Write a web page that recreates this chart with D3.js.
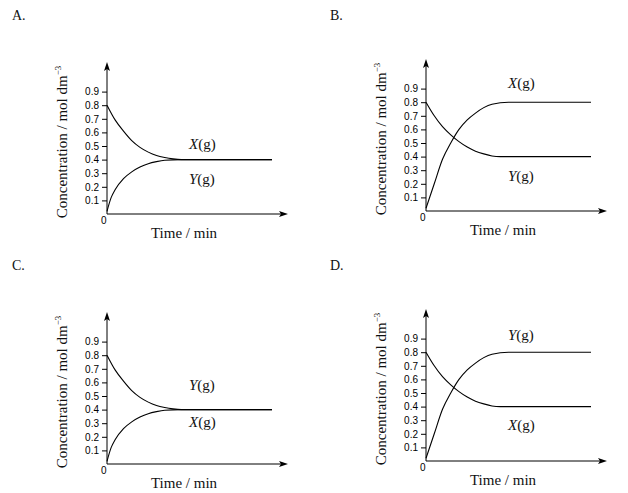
<!DOCTYPE html>
<html><head><meta charset="utf-8">
<script src="https://cdn.jsdelivr.net/npm/d3@7"></script>
<style>
body{margin:0;background:#fff}
.tick text{font-family:"Liberation Sans",Arial,sans-serif;font-size:10px}
.lab{font-family:"Liberation Serif","Times New Roman",serif;fill:#111}
</style></head><body>
<svg width="628" height="493"></svg>
<script>
'use strict';
// Readings (time in arbitrary units 0..10, concentration in mol dm^-3)
const yTicks = [0.1, 0.2, 0.3, 0.4, 0.5, 0.6, 0.7, 0.8, 0.9];
const slowT = [0, 0.5, 1, 1.5, 2, 2.5, 3, 3.5, 4, 4.5, 10];
const slowFall = [0.8, 0.69, 0.61, 0.54, 0.49, 0.455, 0.43, 0.415, 0.405, 0.4, 0.4];
const slowRiseT = [0, 0.25, 0.5, 1, 1.5, 2, 2.5, 3, 3.5, 4.5, 10];
const slowRise = [0.02, 0.12, 0.18, 0.26, 0.31, 0.345, 0.37, 0.385, 0.395, 0.4, 0.4];
const fastRiseT = [0, 0.5, 1, 1.5, 2, 2.5, 3, 3.5, 4, 5, 10];
const fastRise = [0.02, 0.2, 0.38, 0.5, 0.6, 0.67, 0.72, 0.76, 0.785, 0.8, 0.8];
const fallT = [0, 0.5, 1, 1.5, 2, 2.5, 3, 3.5, 4, 4.5, 10];
const fall = [0.8, 0.7, 0.62, 0.56, 0.51, 0.47, 0.44, 0.42, 0.405, 0.4, 0.4];
const panelNames = ["A.", "B.", "C.", "D."];
const upperLabels = ["X", "X", "Y", "Y"];
const lowerLabels = ["Y", "Y", "X", "X"];

const zip = (ts, vs) => ts.map((t, i) => ({t, v: vs[i]}));
const svg = d3.select('svg');

function panel(i, ox, oy, series, upY, lowY) {
  const g = svg.append('g');
  const x = d3.scaleLinear().domain([0, 10]).range([ox, ox + 165]);
  const y = d3.scaleLinear().domain([0, 1]).range([oy, oy - 136]);
  const px = i % 2 ? 330 : 12;
  const py = i < 2 ? 20 : 270;
  g.append('text').attr('class', 'lab').attr('x', px).attr('y', py)
    .attr('font-size', 14).text(panelNames[i]);

  g.append('g').attr('transform', `translate(${ox},0)`)
    .call(d3.axisLeft(y).tickValues(yTicks).tickSize(5).tickPadding(3).tickFormat(d3.format('.1f')))
    .call(a => a.select('.domain').remove());
  g.append('line').attr('x1', ox).attr('x2', ox).attr('y1', oy).attr('y2', oy - 146).attr('stroke', '#000');
  g.append('line').attr('x1', ox).attr('x2', ox + 175).attr('y1', oy).attr('y2', oy).attr('stroke', '#000');
  g.append('path').attr('d', `M${ox},${oy - 152}l-3,9l3,-2l3,2z`);
  g.append('path').attr('d', `M${ox + 181},${oy}l-9,-3l2,3l-2,3z`);
  g.append('text').attr('x', ox - 6).attr('y', oy + 10).attr('font-size', 10)
    .attr('font-family', 'Liberation Sans, Arial, sans-serif').text('0');

  const line = d3.line().curve(d3.curveMonotoneX).x(d => x(d.t)).y(d => y(d.v));
  series.forEach(s => g.append('path').attr('d', line(s)).attr('fill', 'none')
    .attr('stroke', '#000').attr('stroke-width', 1.1));

  const lbl = (name, yy) => {
    const t = g.append('text').attr('class', 'lab').attr('x', ox + 82).attr('y', yy).attr('font-size', 15);
    t.append('tspan').attr('font-style', 'italic').text(name);
    t.append('tspan').text('(g)');
  };
  lbl(upperLabels[i], upY);
  lbl(lowerLabels[i], lowY);

  g.append('text').attr('class', 'lab').attr('x', ox + 77).attr('y', oy + 24)
    .attr('text-anchor', 'middle').attr('font-size', 15).text('Time / min');
  const yl = g.append('text').attr('class', 'lab').attr('font-size', 15).attr('text-anchor', 'middle')
    .attr('transform', `translate(${ox - 40},${oy - 72}) rotate(-90)`);
  yl.append('tspan').text('Concentration / mol dm');
  yl.append('tspan').attr('dy', -6).attr('font-size', 9).text('\u22123');
}

const curvesAC = [zip(slowT, slowFall), zip(slowRiseT, slowRise)];
const curvesBD = [zip(fastRiseT, fastRise), zip(fallT, fall)];
panel(0, 107, 214, curvesAC, 149, 184);
panel(1, 426, 211, curvesBD, 88, 181);
panel(2, 107, 464, curvesAC, 390, 427);
panel(3, 426, 461, curvesBD, 340, 430);
</script></body></html>
